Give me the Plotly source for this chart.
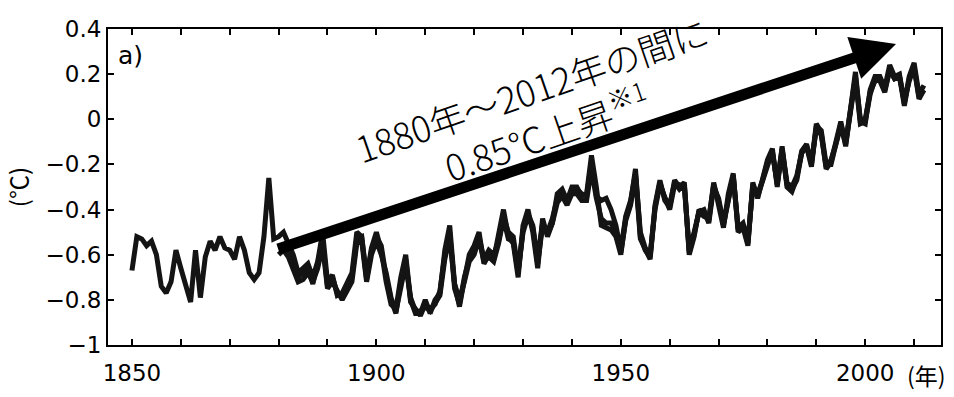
import plotly.graph_objects as go

# ---- data (annual global mean temperature anomaly, °C) ----
years_a = list(range(1850, 2013))
temp_a = [
    -0.67, -0.52, -0.53, -0.56, -0.54, -0.60, -0.74, -0.77, -0.72, -0.58,  # 1850s
    -0.66, -0.73, -0.81, -0.58, -0.79, -0.61, -0.54, -0.58, -0.52, -0.57,  # 1860s
    -0.58, -0.62, -0.52, -0.58, -0.68, -0.71, -0.68, -0.52, -0.26, -0.53,  # 1870s
    -0.52, -0.50, -0.55, -0.60, -0.68, -0.66, -0.64, -0.70, -0.63, -0.50,  # 1880s
    -0.72, -0.69, -0.78, -0.77, -0.72, -0.68, -0.50, -0.52, -0.70, -0.57,  # 1890s
    -0.50, -0.58, -0.72, -0.82, -0.84, -0.70, -0.60, -0.80, -0.86, -0.86,  # 1900s
    -0.80, -0.86, -0.80, -0.77, -0.58, -0.47, -0.73, -0.83, -0.71, -0.60,  # 1910s
    -0.56, -0.50, -0.64, -0.60, -0.62, -0.52, -0.40, -0.52, -0.55, -0.70,  # 1920s
    -0.47, -0.40, -0.50, -0.66, -0.44, -0.52, -0.46, -0.33, -0.31, -0.36,  # 1930s
    -0.30, -0.30, -0.34, -0.33, -0.16, -0.30, -0.47, -0.48, -0.49, -0.52,  # 1940s
    -0.60, -0.44, -0.37, -0.22, -0.52, -0.58, -0.61, -0.38, -0.27, -0.36,  # 1950s
    -0.39, -0.27, -0.30, -0.28, -0.60, -0.52, -0.40, -0.42, -0.45, -0.28,  # 1960s
    -0.37, -0.48, -0.33, -0.24, -0.50, -0.48, -0.56, -0.28, -0.35, -0.26,  # 1970s
    -0.18, -0.13, -0.30, -0.12, -0.30, -0.32, -0.26, -0.14, -0.11, -0.20,  # 1980s
    -0.02, -0.06, -0.22, -0.19, -0.10, -0.01, -0.12, 0.04, 0.21, -0.01,    # 1990s
    -0.02, 0.13, 0.19, 0.19, 0.14, 0.24, 0.19, 0.20, 0.07, 0.19,           # 2000s
    0.25, 0.11, 0.15,                                                      # 2010-2012
]

years_b = list(range(1880, 2013))
temp_b = [
    -0.57, -0.56, -0.58, -0.64, -0.70, -0.68, -0.66, -0.73, -0.64, -0.54,  # 1880s
    -0.74, -0.70, -0.77, -0.78, -0.74, -0.70, -0.53, -0.52, -0.71, -0.58,  # 1890s
    -0.52, -0.56, -0.70, -0.80, -0.86, -0.72, -0.62, -0.81, -0.84, -0.87,  # 1900s
    -0.82, -0.84, -0.82, -0.76, -0.60, -0.50, -0.75, -0.82, -0.70, -0.62,  # 1910s
    -0.58, -0.52, -0.62, -0.58, -0.60, -0.54, -0.43, -0.50, -0.52, -0.67,  # 1920s
    -0.49, -0.42, -0.47, -0.62, -0.46, -0.50, -0.44, -0.35, -0.33, -0.37,  # 1930s
    -0.32, -0.31, -0.33, -0.34, -0.19, -0.34, -0.36, -0.35, -0.40, -0.47,  # 1940s
    -0.58, -0.43, -0.36, -0.24, -0.50, -0.57, -0.60, -0.40, -0.29, -0.34,  # 1950s
    -0.40, -0.29, -0.29, -0.30, -0.58, -0.50, -0.41, -0.40, -0.46, -0.30,  # 1960s
    -0.35, -0.46, -0.34, -0.25, -0.48, -0.46, -0.54, -0.30, -0.33, -0.27,  # 1970s
    -0.19, -0.15, -0.28, -0.13, -0.28, -0.30, -0.25, -0.15, -0.12, -0.19,  # 1980s
    -0.04, -0.07, -0.21, -0.18, -0.11, -0.02, -0.10, 0.03, 0.19, 0.00,     # 1990s
    0.00, 0.12, 0.17, 0.18, 0.13, 0.22, 0.18, 0.19, 0.08, 0.17,            # 2000s
    0.23, 0.10, 0.13,                                                      # 2010-2012
]

years_c = list(range(1880, 2013))
temp_c = [
    -0.60, -0.58, -0.61, -0.67, -0.72, -0.71, -0.68, -0.72, -0.66, -0.56,  # 1880s
    -0.75, -0.72, -0.76, -0.80, -0.76, -0.72, -0.55, -0.54, -0.72, -0.60,  # 1890s
    -0.54, -0.60, -0.68, -0.79, -0.85, -0.74, -0.64, -0.79, -0.85, -0.85,  # 1900s
    -0.83, -0.85, -0.81, -0.78, -0.62, -0.52, -0.73, -0.80, -0.72, -0.63,  # 1910s
    -0.60, -0.53, -0.63, -0.61, -0.63, -0.55, -0.44, -0.53, -0.54, -0.68,  # 1920s
    -0.50, -0.43, -0.48, -0.64, -0.47, -0.51, -0.46, -0.37, -0.34, -0.38,  # 1930s
    -0.33, -0.33, -0.36, -0.36, -0.22, -0.35, -0.44, -0.46, -0.46, -0.50,  # 1940s
    -0.59, -0.45, -0.38, -0.25, -0.53, -0.58, -0.62, -0.39, -0.28, -0.35,  # 1950s
    -0.38, -0.28, -0.31, -0.29, -0.59, -0.51, -0.41, -0.43, -0.44, -0.29,  # 1960s
    -0.36, -0.47, -0.35, -0.25, -0.49, -0.47, -0.55, -0.29, -0.34, -0.27,  # 1970s
    -0.20, -0.14, -0.29, -0.14, -0.29, -0.31, -0.27, -0.15, -0.12, -0.21,  # 1980s
    -0.03, -0.05, -0.20, -0.20, -0.11, -0.03, -0.11, 0.02, 0.18, -0.02,    # 1990s
    -0.01, 0.11, 0.18, 0.17, 0.12, 0.22, 0.18, 0.19, 0.06, 0.18,           # 2000s
    0.23, 0.09, 0.13,                                                      # 2010-2012
]

x_tick_vals = list(range(1850, 2011, 10))
x_tick_text = ["1850" if v == 1850 else "1900" if v == 1900 else "1950" if v == 1950
               else "2000" if v == 2000 else "" for v in x_tick_vals]
y_tick_vals = [0.4, 0.2, 0, -0.2, -0.4, -0.6, -0.8, -1]
y_tick_text = ["0.4", "0.2", "0", "−0.2", "−0.4", "−0.6", "−0.8", "−1"]

trend_start = (1879.6, -0.577)
trend_end = (2006.3, 0.333)

label_font = "DejaVu Sans, sans-serif"
jp_font = "Noto Sans CJK JP, sans-serif"

fig = go.Figure()
for xs, ys in [(years_c, temp_c), (years_b, temp_b), (years_a, temp_a)]:
    fig.add_trace(go.Scatter(x=xs, y=ys, mode="lines",
                             line=dict(color="#141414", width=5),
                             showlegend=False, hoverinfo="skip"))

# trend arrow
fig.add_annotation(x=trend_end[0], y=trend_end[1], ax=trend_start[0], ay=trend_start[1],
                   xref="x", yref="y", axref="x", ayref="y", text="",
                   showarrow=True, arrowhead=2, arrowsize=0.8, arrowwidth=11,
                   arrowcolor="#000000", standoff=0)

# rotated note
fig.add_annotation(x=1933.3, y=0.04, xref="x", yref="y",
                   text="1880年～2012年の間に<br>0.85℃上昇<sup>※1</sup>",
                   showarrow=False, textangle=-19, align="center",
                   font=dict(family=jp_font, size=36, color="#000", weight=300))

fig.add_annotation(x=0.01, y=0.915, xref="paper", yref="paper", text="a)",
                   showarrow=False, xanchor="left", yanchor="middle",
                   font=dict(family="DejaVu Sans, sans-serif", size=25, color="#000"))

fig.update_layout(
    width=954, height=397,
    margin=dict(l=108, r=11, t=29, b=34),
    paper_bgcolor="white", plot_bgcolor="white",
    font=dict(family=label_font, size=23, color="#000"),
    xaxis=dict(range=[1845.1, 2015.5], tickmode="array", tickvals=x_tick_vals,
               ticktext=x_tick_text, ticks="inside", ticklen=6, tickwidth=2,
               tickcolor="#000", showline=True, linecolor="#000", linewidth=2,
               mirror="ticks", showgrid=False, zeroline=False,
               ticklabelstandoff=6,
               tickfont=dict(family=label_font, size=23)),
    yaxis=dict(range=[-1, 0.4], tickmode="array", tickvals=y_tick_vals,
               ticktext=y_tick_text, ticks="inside", ticklen=6, tickwidth=2,
               tickcolor="#000", showline=True, linecolor="#000", linewidth=2,
               mirror="ticks", showgrid=False, zeroline=False,
               tickfont=dict(family=label_font, size=23),
               title=dict(text="(℃)", standoff=12,
                          font=dict(family=jp_font, size=24))),
)

# year unit label next to the 2000 tick label
fig.add_annotation(x=1.009, y=-0.035, xref="paper", yref="paper", text="(年)",
                   showarrow=False, xanchor="right", yanchor="top",
                   font=dict(family=jp_font, size=23, color="#000"))

fig.write_html("out.html")
